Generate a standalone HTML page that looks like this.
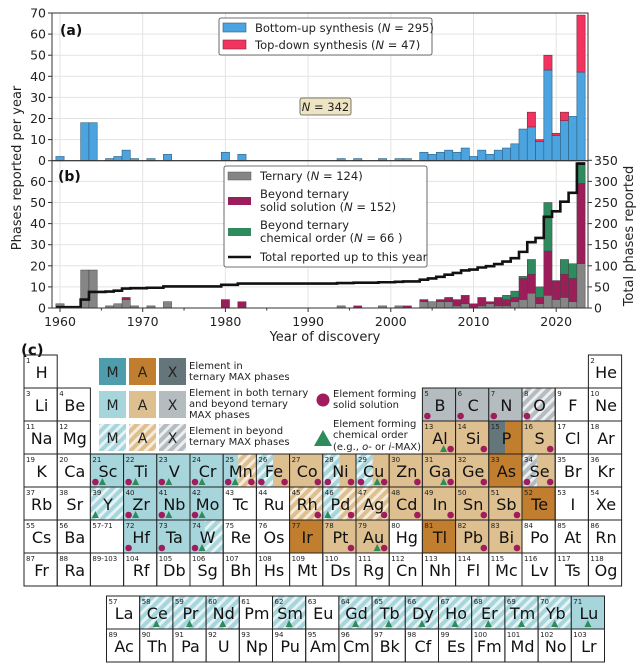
<!DOCTYPE html>
<html><head><meta charset="utf-8"><style>
html,body{margin:0;padding:0;background:#fff;}
svg{display:block;font-family:"DejaVu Sans","Liberation Sans",sans-serif;}
</style></head><body>
<svg id="s" width="643" height="668" viewBox="0 0 643 668" xmlns="http://www.w3.org/2000/svg">
<defs>
<pattern id="hm" width="7" height="7" patternUnits="userSpaceOnUse" patternTransform="rotate(45)"><rect width="7" height="7" fill="#a7d5dc"/><rect width="3" height="7" fill="#e6f3f5"/></pattern>
<pattern id="ha" width="7" height="7" patternUnits="userSpaceOnUse" patternTransform="rotate(45)"><rect width="7" height="7" fill="#ddbf90"/><rect width="3" height="7" fill="#f6ecdc"/></pattern>
<pattern id="hx" width="7" height="7" patternUnits="userSpaceOnUse" patternTransform="rotate(45)"><rect width="7" height="7" fill="#b5bcc0"/><rect width="3" height="7" fill="#eceef0"/></pattern>
</defs>
<g id="g"></g>
</svg>
<script>
var o=[];
function X(y){return 60+(y-1960)*8.27;}
var BW=8.27;
function YA(v){return 160.7-v*2.11;}
function YB(v){return 308-v*2.11;}
var L=52,R=588;
for(var yr=1960;yr<=2020;yr+=10){o.push('<line x1="'+X(yr)+'" y1="13" x2="'+X(yr)+'" y2="308" stroke="#e3e3e3" stroke-width="1"/>');}
for(var v=10;v<=60;v+=10){o.push('<line x1="'+L+'" y1="'+YA(v)+'" x2="'+R+'" y2="'+YA(v)+'" stroke="#e3e3e3"/>');o.push('<line x1="'+L+'" y1="'+YB(v)+'" x2="'+R+'" y2="'+YB(v)+'" stroke="#e3e3e3"/>');}
var A={1960:[2,0],1963:[18,0],1964:[18,0],1966:[1,0],1967:[2,0],1968:[5,0],1969:[1,0],1971:[1,0],1973:[3,0],1980:[4,0],1982:[3,0],1994:[1,0],1996:[1,0],1999:[1,0],2001:[1,0],2002:[1,0],2004:[4,0],2005:[3,0],2006:[4,0],2007:[5,0],2008:[4,0],2009:[6,0],2010:[2,0],2011:[5,0],2012:[3,0],2013:[5,0],2014:[6,0],2015:[8,0],2016:[15,0],2017:[16,7],2018:[9,1],2019:[43,7],2020:[12,1],2021:[19,4],2022:[21,0],2023:[42,27]};
for(var k in A){var yv=+k,bv=A[k][0],tv=A[k][1],xb=X(yv)-BW/2;
 o.push('<rect x="'+xb+'" y="'+YA(bv)+'" width="'+BW+'" height="'+(bv*2.11)+'" fill="#4ba3df" stroke="#2c5f7f" stroke-width="0.6"/>');
 if(tv)o.push('<rect x="'+xb+'" y="'+YA(bv+tv)+'" width="'+BW+'" height="'+(tv*2.11)+'" fill="#f2335f" stroke="#7a2a3a" stroke-width="0.6"/>');}
var B={1960:[2,0,0],1963:[18,0,0],1964:[18,0,0],1966:[1,0,0],1967:[2,0,0],1968:[4,1,0],1969:[1,0,0],1971:[1,0,0],1973:[3,0,0],1980:[0,4,0],1982:[0,3,0],1994:[1,0,0],1996:[0,1,0],1999:[1,0,0],2001:[1,0,0],2002:[0,1,0],2004:[3,1,0],2005:[3,0,0],2006:[3,1,0],2007:[3,2,0],2008:[1,3,0],2009:[2,4,0],2010:[0,2,0],2011:[1,4,0],2012:[2,1,0],2013:[1,4,0],2014:[1,3,2],2015:[3,2,3],2016:[4,10,1],2017:[7,9,7],2018:[2,3,5],2019:[6,21,23],2020:[4,9,0],2021:[5,11,7],2022:[3,11,7],2023:[21,38,10]};
var cols=["#858585","#9b1d5a","#2f8a5e"],cum=0,pts=[];
for(var y=1960;y<=2023;y++){var d=B[y];var base=0;
 if(d){for(var i=0;i<3;i++){if(d[i]){o.push('<rect x="'+(X(y)-BW/2)+'" y="'+YB(base+d[i])+'" width="'+BW+'" height="'+(d[i]*2.11)+'" fill="'+cols[i]+'" stroke="#444" stroke-width="0.5"/>');base+=d[i];}}cum+=base;}
 var yy=308-cum*2.11/5;pts.push((X(y)-BW/2)+','+yy);pts.push((X(y)+BW/2)+','+yy);}
o.push('<polyline points="'+pts.join(' ')+'" fill="none" stroke="#111" stroke-width="2.6"/>');
o.push('<rect x="'+L+'" y="13" width="'+(R-L)+'" height="147.7" fill="none" stroke="#333" stroke-width="1"/>');
o.push('<rect x="'+L+'" y="160.7" width="'+(R-L)+'" height="147.3" fill="none" stroke="#333" stroke-width="1"/>');
for(var v=0;v<=70;v+=10){var yy=YA(v);o.push('<line x1="'+(L-4)+'" y1="'+yy+'" x2="'+L+'" y2="'+yy+'" stroke="#333"/><text x="'+(L-6)+'" y="'+(yy+4.5)+'" font-size="12.5" text-anchor="end" fill="#222">'+v+'</text>');}
for(var v=0;v<=60;v+=10){var yy=YB(v);o.push('<line x1="'+(L-4)+'" y1="'+yy+'" x2="'+L+'" y2="'+yy+'" stroke="#333"/><text x="'+(L-6)+'" y="'+(yy+4.5)+'" font-size="12.5" text-anchor="end" fill="#222">'+v+'</text>');}
for(var v=0;v<=350;v+=50){var yy=308-v*2.11/5;o.push('<line x1="'+R+'" y1="'+yy+'" x2="'+(R+4)+'" y2="'+yy+'" stroke="#333"/><text x="'+(R+6)+'" y="'+(yy+4.5)+'" font-size="12.5" fill="#222">'+v+'</text>');}
for(var yr=1960;yr<=2020;yr+=10){o.push('<line x1="'+X(yr)+'" y1="308" x2="'+X(yr)+'" y2="312" stroke="#333"/><text x="'+X(yr)+'" y="326" font-size="12.5" text-anchor="middle" fill="#222">'+yr+'</text>');}
for(var yr=1965;yr<=2020;yr+=10){o.push('<line x1="'+X(yr)+'" y1="308" x2="'+X(yr)+'" y2="310.5" stroke="#333"/>');}
o.push('<text x="325" y="341" font-size="13" text-anchor="middle" fill="#222">Year of discovery</text>');
o.push('<text transform="translate(21,168) rotate(-90)" font-size="13" text-anchor="middle" fill="#222">Phases reported per year</text>');
o.push('<text transform="translate(633,236) rotate(-90)" font-size="13" text-anchor="middle" fill="#222">Total phases reported</text>');
o.push('<text x="60" y="35" font-size="14" font-weight="bold" fill="#111">(a)</text>');
o.push('<text x="58" y="181" font-size="14" font-weight="bold" fill="#111">(b)</text>');
o.push('<text x="21" y="355" font-size="15" font-weight="bold" fill="#111">(c)</text>');
o.push('<rect x="219" y="18" width="213" height="37" rx="2" fill="#fff" fill-opacity="0.9" stroke="#444" stroke-width="0.8"/>');
o.push('<rect x="223" y="23" width="23" height="9" fill="#4ba3df" stroke="#2c5f7f" stroke-width="0.6"/><text x="255" y="32" font-size="11.5" fill="#222">Bottom-up synthesis (<tspan font-style="italic">N</tspan> = 295)</text>');
o.push('<rect x="223" y="40" width="23" height="9" fill="#f2335f" stroke="#7a2a3a" stroke-width="0.6"/><text x="255" y="49" font-size="11.5" fill="#222">Top-down synthesis (<tspan font-style="italic">N</tspan> = 47)</text>');
o.push('<rect x="300" y="98" width="51" height="17" rx="2" fill="#efe4c1" stroke="#555" stroke-width="0.8"/><text x="325.5" y="111" font-size="11.5" text-anchor="middle" fill="#222"><tspan font-style="italic">N</tspan> = 342</text>');
o.push('<rect x="224" y="166" width="203" height="101" rx="2" fill="#fff" fill-opacity="0.92" stroke="#444" stroke-width="0.8"/>');
o.push('<rect x="228" y="172" width="23" height="8" fill="#858585" stroke="#555" stroke-width="0.5"/><text x="260" y="180" font-size="11.5" fill="#222">Ternary (<tspan font-style="italic">N</tspan> = 124)</text>');
o.push('<rect x="228" y="197" width="23" height="8" fill="#9b1d5a"/><text x="260" y="198" font-size="11.5" fill="#222">Beyond ternary</text><text x="260" y="211" font-size="11.5" fill="#222">solid solution (<tspan font-style="italic">N</tspan> = 152)</text>');
o.push('<rect x="228" y="228" width="23" height="8" fill="#2f8a5e"/><text x="260" y="229" font-size="11.5" fill="#222">Beyond ternary</text><text x="260" y="242" font-size="11.5" fill="#222">chemical order (<tspan font-style="italic">N</tspan> = 66 )</text>');
o.push('<line x1="228" y1="257" x2="251" y2="257" stroke="#111" stroke-width="2.6"/><text x="260" y="261" font-size="11.5" fill="#222">Total reported up to this year</text>');
var C={tm:"#a7d5dc",ta:"#ddbf90",do:"#c27e2f",gx:"#b5bcc0",dx:"#65767b",dm:"#4e9dac",hm:"url(#hm)",ha:"url(#ha)",hx:"url(#hx)"};
var CW=33.2,RH=33;
function mark(tp,cx,my){if(tp=='c')o.push('<circle cx="'+cx+'" cy="'+my+'" r="3.3" fill="#a01c5c"/>');else if(tp=='t')o.push('<polygon points="'+(cx-3.5)+','+(my+3)+' '+(cx+3.5)+','+(my+3)+' '+cx+','+(my-4)+'" fill="#2f8b5c"/>');}
function cell(x,y,num,sym,fill,mk){
 var w=CW,h=RH;
 if(fill){if(typeof fill=="string")o.push('<rect x="'+x+'" y="'+y+'" width="'+w+'" height="'+h+'" fill="'+C[fill]+'"/>');
  else{var f=fill[2]*w;o.push('<rect x="'+x+'" y="'+y+'" width="'+f+'" height="'+h+'" fill="'+C[fill[0]]+'"/><rect x="'+(x+f)+'" y="'+y+'" width="'+(w-f)+'" height="'+h+'" fill="'+C[fill[1]]+'"/>');}}
 o.push('<rect x="'+x+'" y="'+y+'" width="'+w+'" height="'+h+'" fill="none" stroke="#222" stroke-width="1"/>');
 o.push('<text x="'+(x+2)+'" y="'+(y+8)+'" font-size="7" fill="#222">'+num+'</text>');
 if(sym)o.push('<text x="'+(x+w/2+1)+'" y="'+(y+23)+'" font-size="16" text-anchor="middle" fill="#111">'+sym+'</text>');
 if(mk){var p=mk.split('|'),my=y+h-5;
  if(p.length==1){mark('t',x+w/2,my);}else{
  for(var i=0;i<p[0].length;i++)mark(p[0][i],x+5+i*7,my);
  var r=p[1];for(var i=0;i<r.length;i++)mark(r[i],x+w-5-(r.length-1-i)*7,my);}}
}
var X0=24,Y0=355;
function P(col,row,num,sym,fill,mk){cell(X0+(col-1)*CW,Y0+(row-1)*RH,num,sym,fill,mk);}
var rows=[
[[1,1,"H"],[18,2,"He"]],
[[1,3,"Li"],[2,4,"Be"],[13,5,"B","gx","c|"],[14,6,"C","gx","c|"],[15,7,"N","gx","c|"],[16,8,"O","hx","c|"],[17,9,"F"],[18,10,"Ne"]],
[[1,11,"Na"],[2,12,"Mg"],[13,13,"Al","ta","|tc"],[14,14,"Si","ta","|c"],[15,15,"P",["dx","do",0.5]],[16,16,"S","ta","|c"],[17,17,"Cl"],[18,18,"Ar"]],
[[1,19,"K"],[2,20,"Ca"],[3,21,"Sc","tm","ct|"],[4,22,"Ti","tm","ct|"],[5,23,"V","tm","ct|"],[6,24,"Cr","tm","ct|"],[7,25,"Mn",["tm","ha",0.45],"ct|c"],[8,26,"Fe",["hm","ta",0.5],"c|c"],[9,27,"Co","ta","|c"],[10,28,"Ni",["hm","ta",0.5],"c|c"],[11,29,"Cu",["hm","ta",0.5],"c|tc"],[12,30,"Zn","ta","|c"],[13,31,"Ga","ta","|tc"],[14,32,"Ge","ta","|c"],[15,33,"As","do"],[16,34,"Se",["hx","ta",0.45],"c|c"],[17,35,"Br"],[18,36,"Kr"]],
[[1,37,"Rb"],[2,38,"Sr"],[3,39,"Y","hm","t|"],[4,40,"Zr","tm","ct|"],[5,41,"Nb","tm","ct|"],[6,42,"Mo","tm","ct|"],[7,43,"Tc"],[8,44,"Ru"],[9,45,"Rh","ha","|c"],[10,46,"Pd",["hm","ha",0.5],"t|c"],[11,47,"Ag","ha","|c"],[12,48,"Cd","ta","|c"],[13,49,"In","ta","|c"],[14,50,"Sn","ta","|c"],[15,51,"Sb","ta","|c"],[16,52,"Te","do"],[17,53,"I"],[18,54,"Xe"]],
[[1,55,"Cs"],[2,56,"Ba"],[3,"57-71",""],[4,72,"Hf","tm","c|"],[5,73,"Ta","tm","c|"],[6,74,"W",["tm","hm",0.45],"ct|"],[7,75,"Re"],[8,76,"Os"],[9,77,"Ir","do"],[10,78,"Pt","ta","|c"],[11,79,"Au","ta","|tc"],[12,80,"Hg"],[13,81,"Tl","do"],[14,82,"Pb","ta","|c"],[15,83,"Bi","ta","|c"],[16,84,"Po"],[17,85,"At"],[18,86,"Rn"]],
[[1,87,"Fr"],[2,88,"Ra"],[3,"89-103",""],[4,104,"Rf"],[5,105,"Db"],[6,106,"Sg"],[7,107,"Bh"],[8,108,"Hs"],[9,109,"Mt"],[10,110,"Ds"],[11,111,"Rg"],[12,112,"Cn"],[13,113,"Nh"],[14,114,"Fl"],[15,115,"Mc"],[16,116,"Lv"],[17,117,"Ts"],[18,118,"Og"]]];
for(var r=0;r<rows.length;r++)for(var i=0;i<rows[r].length;i++){var e=rows[r][i];P(e[0],r+1,e[1],e[2],e[3],e[4]);}
var lan=[["La"],["Ce","hm","^"],["Pr","hm","^"],["Nd","hm","^"],["Pm"],["Sm","hm","^"],["Eu"],["Gd","hm","^"],["Tb","hm","^"],["Dy","hm","^"],["Ho","hm","^"],["Er","hm","^"],["Tm","hm","^"],["Yb","hm","^"],["Lu","tm","^"]];
var act=["Ac","Th","Pa","U","Np","Pu","Am","Cm","Bk","Cf","Es","Fm","Md","No","Lr"];
for(var i=0;i<15;i++){cell(106.5+i*CW,596,57+i,lan[i][0],lan[i][1],lan[i][2]);cell(106.5+i*CW,629,89+i,act[i]);}
var lg=[[358,"dm","do","dx"],[391,"tm","ta","gx"],[424,"hm","ha","hx"]];
var MAX=["M","A","X"];
for(var i=0;i<3;i++){var yy=lg[i][0];for(var j=0;j<3;j++){var xx=99+j*30;o.push('<rect x="'+xx+'" y="'+yy+'" width="27" height="27" fill="'+C[lg[i][j+1]]+'"/><text x="'+(xx+13.5)+'" y="'+(yy+19)+'" font-size="14" text-anchor="middle" fill="#222">'+MAX[j]+'</text>');}}
function tx(x,y,s){o.push('<text x="'+x+'" y="'+y+'" font-size="10" fill="#222">'+s+'</text>');}
tx(189,369,"Element in");tx(189,380,"ternary MAX phases");
tx(189,396,"Element in both ternary");tx(189,407,"and beyond ternary");tx(189,418,"MAX phases");
tx(189,434,"Element in beyond");tx(189,445,"ternary MAX phases");
o.push('<circle cx="323" cy="400" r="6.5" fill="#a01c5c"/>');tx(333,397,"Element forming");tx(333,408,"solid solution");
o.push('<polygon points="314,446 332,446 323,430" fill="#2f8b5c"/>');tx(333,427,"Element forming");tx(333,438,"chemical order");
o.push('<text x="333" y="450" font-size="10" fill="#222">(e.g., <tspan font-style="italic">o</tspan>- or <tspan font-style="italic">i</tspan>-MAX)</text>');
document.getElementById('g').innerHTML=o.join('');
</script>
</body></html>
